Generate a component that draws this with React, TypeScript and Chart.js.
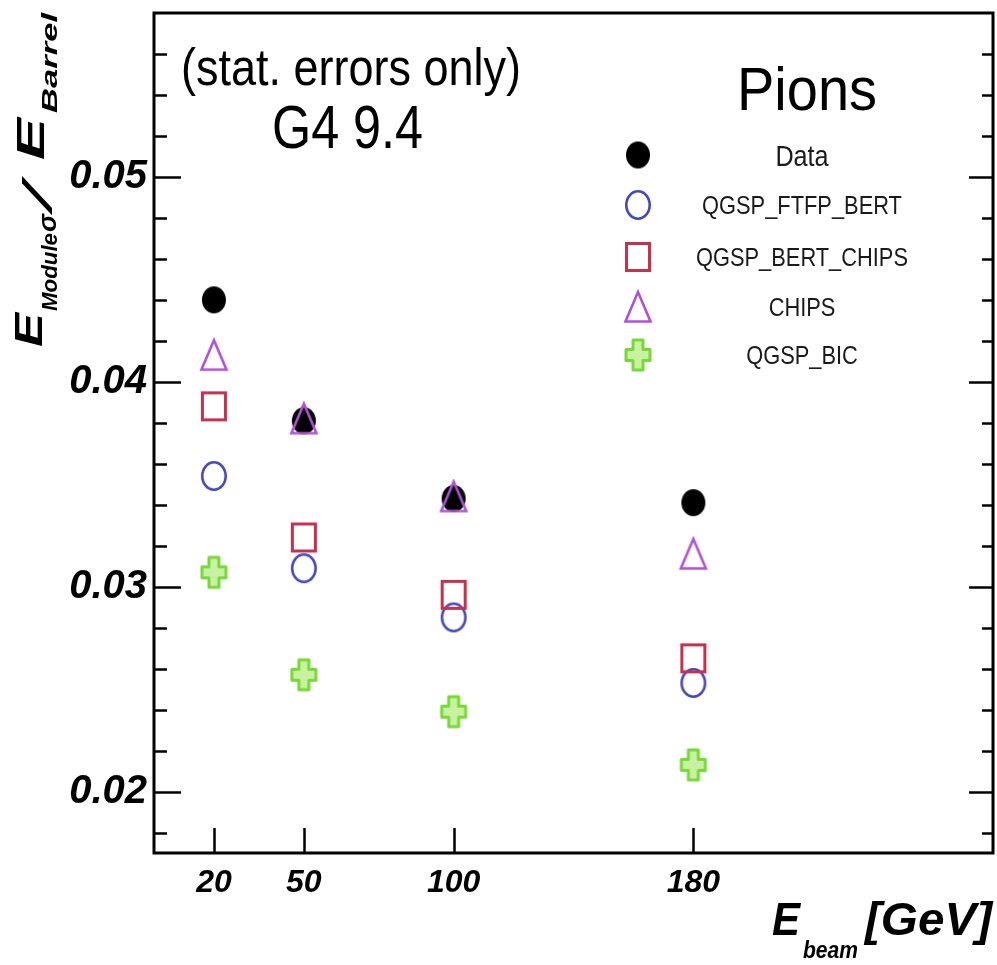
import React, { useEffect, useRef } from 'react';
import { Chart, registerables } from 'chart.js';

Chart.register(...registerables);

// ---- data ----
const energies = [20, 50, 100, 180];
const dataValues = [0.044, 0.0381, 0.0343, 0.0341];
const ftfpBertValues = [0.0354, 0.0309, 0.0285, 0.0253];
const bertChipsValues = [0.0388, 0.0324, 0.0296, 0.0265];
const chipsValues = [0.0413, 0.0382, 0.0344, 0.0316];
const bicValues = [0.0307, 0.0257, 0.0239, 0.0213];
const seriesLabels = ['Data', 'QGSP_FTFP_BERT', 'QGSP_BERT_CHIPS', 'CHIPS', 'QGSP_BIC'];
const xTickValues = [20, 50, 100, 180];
const yMajorTicks = [0.02, 0.03, 0.04, 0.05];
const yMinorTicks = [0.018, 0.022, 0.024, 0.026, 0.028, 0.032, 0.034, 0.036, 0.038, 0.042, 0.044, 0.046, 0.048, 0.052, 0.054, 0.056, 0.058];

const FONT = "'Liberation Sans', Arial, Helvetica, sans-serif";

function makeCanvas(w: number, h: number, draw: (ctx: CanvasRenderingContext2D, w: number, h: number) => void) {
  const c = document.createElement('canvas');
  c.width = w;
  c.height = h;
  const ctx = c.getContext('2d')!;
  draw(ctx, w, h);
  return c;
}

function makeMarkers() {
  const data = makeCanvas(28, 31, (ctx, w, h) => {
    ctx.fillStyle = '#000';
    ctx.beginPath();
    ctx.ellipse(w / 2, h / 2, 12, 13.5, 0, 0, Math.PI * 2);
    ctx.fill();
  });
  const circle = makeCanvas(30, 34, (ctx, w, h) => {
    ctx.strokeStyle = '#4646bf';
    ctx.lineWidth = 2.6;
    ctx.beginPath();
    ctx.ellipse(w / 2, h / 2, 11.7, 13.7, 0, 0, Math.PI * 2);
    ctx.stroke();
  });
  const square = makeCanvas(30, 34, (ctx, w, h) => {
    ctx.strokeStyle = '#c9304e';
    ctx.lineWidth = 3;
    ctx.strokeRect(w / 2 - 11.5, h / 2 - 13.5, 23, 27);
  });
  const triangle = makeCanvas(32, 36, (ctx, w, h) => {
    ctx.strokeStyle = '#b052d6';
    ctx.lineWidth = 2.6;
    ctx.lineJoin = 'miter';
    ctx.beginPath();
    ctx.moveTo(w / 2, h / 2 - 15);
    ctx.lineTo(w / 2 + 12.5, h / 2 + 14.5);
    ctx.lineTo(w / 2 - 12.5, h / 2 + 14.5);
    ctx.closePath();
    ctx.stroke();
  });
  const plus = makeCanvas(32, 38, (ctx, w, h) => {
    const cx = w / 2, cy = h / 2;
    const a = 12, b = 15, t = 5;
    const tv = 5.5;
    ctx.beginPath();
    ctx.moveTo(cx - t, cy - b);
    ctx.lineTo(cx + t, cy - b);
    ctx.lineTo(cx + t, cy - tv);
    ctx.lineTo(cx + a, cy - tv);
    ctx.lineTo(cx + a, cy + tv);
    ctx.lineTo(cx + t, cy + tv);
    ctx.lineTo(cx + t, cy + b);
    ctx.lineTo(cx - t, cy + b);
    ctx.lineTo(cx - t, cy + tv);
    ctx.lineTo(cx - a, cy + tv);
    ctx.lineTo(cx - a, cy - tv);
    ctx.lineTo(cx - t, cy - tv);
    ctx.closePath();
    ctx.fillStyle = '#c8f2a2';
    ctx.fill();
    ctx.strokeStyle = '#78d83a';
    ctx.lineWidth = 3;
    ctx.lineJoin = 'round';
    ctx.stroke();
  });
  return { data, circle, square, triangle, plus };
}

function fitText(ctx: CanvasRenderingContext2D, text: string, left: number, baseline: number, font: string, width: number, color = '#000') {
  ctx.save();
  ctx.font = font;
  ctx.fillStyle = color;
  ctx.textBaseline = 'alphabetic';
  ctx.textAlign = 'left';
  const w = ctx.measureText(text).width;
  ctx.translate(left, baseline);
  ctx.scale(width / w, 1);
  ctx.fillText(text, 0, 0);
  ctx.restore();
}

function centerText(ctx: CanvasRenderingContext2D, text: string, cx: number, baseline: number, font: string, sx: number, color = '#000') {
  ctx.save();
  ctx.font = font;
  ctx.fillStyle = color;
  ctx.textBaseline = 'alphabetic';
  ctx.textAlign = 'center';
  ctx.translate(cx, baseline);
  ctx.scale(sx, 1);
  ctx.fillText(text, 0, 0);
  ctx.restore();
}

function rotPiece(ctx: CanvasRenderingContext2D, text: string, startY: number, endY: number, baseX: number, font: string) {
  ctx.save();
  ctx.font = font;
  ctx.fillStyle = '#000';
  ctx.textBaseline = 'alphabetic';
  ctx.textAlign = 'left';
  const w = ctx.measureText(text).width;
  ctx.translate(baseX, startY);
  ctx.rotate(-Math.PI / 2);
  ctx.scale((startY - endY) / w, 1);
  ctx.fillText(text, 0, 0);
  ctx.restore();
}

export default function App() {
  const ref = useRef<HTMLCanvasElement>(null);

  useEffect(() => {
    document.body.style.margin = '0';
    document.body.style.overflow = 'hidden';
    const canvas = ref.current!;
    const m = makeMarkers();
    const styles = [m.data, m.circle, m.square, m.triangle, m.plus];
    const series = [dataValues, ftfpBertValues, bertChipsValues, chipsValues, bicValues];
    const orders = [4, 3, 2, 1, 0];

    const decorPlugin = {
      id: 'decor',
      afterDraw(chart: any) {
        const ctx: CanvasRenderingContext2D = chart.ctx;
        const { left, right, top, bottom } = chart.chartArea;
        const xs = chart.scales.x;
        const ys = chart.scales.y;
        ctx.save();
        ctx.strokeStyle = '#000';
        ctx.lineWidth = 2.5;
        const yt = [...yMajorTicks.map((v) => [v, true] as [number, boolean]), ...yMinorTicks.map((v) => [v, false] as [number, boolean])];
        for (const [v, major] of yt) {
          const py = Math.round(ys.getPixelForValue(v)) + 0.5;
          if (py < top + 2 || py > bottom - 2) continue;
          const lenL = major ? 27 : 13;
          const lenR = major ? 24 : 11;
          ctx.beginPath();
          ctx.moveTo(left, py);
          ctx.lineTo(left + lenL, py);
          ctx.moveTo(right, py);
          ctx.lineTo(right - lenR, py);
          ctx.stroke();
        }
        for (const v of xTickValues) {
          const px = Math.round(xs.getPixelForValue(v)) + 0.5;
          ctx.beginPath();
          ctx.moveTo(px, bottom);
          ctx.lineTo(px, bottom - 25);
          ctx.stroke();
        }
        ctx.lineWidth = 3;
        ctx.strokeRect(left, top, right - left, bottom - top);
        ctx.restore();

        fitText(ctx, '(stat. errors only)', 181, 85, `52px ${FONT}`, 340);
        fitText(ctx, 'G4 9.4', 272, 148, `62px ${FONT}`, 151);
        fitText(ctx, 'Pions', 737, 110, `62px ${FONT}`, 140);

        const rows = [155, 205, 257, 307, 355];
        chart.data.datasets.forEach((ds: any, i: number) => {
          const st = ds.pointStyle as HTMLCanvasElement;
          ctx.drawImage(st, 638 - st.width / 2, rows[i] - st.height / 2);
          const size = i === 0 ? 30 : 26;
          centerText(ctx, ds.label, 802, rows[i] + (i === 0 ? 11 : 9), `${size}px ${FONT}`, 0.84, '#1a1a1a');
        });

        fitText(ctx, 'E', 772, 935, `italic bold 47px ${FONT}`, 28);
        fitText(ctx, 'beam', 803, 958, `italic bold 24px ${FONT}`, 55);
        fitText(ctx, '[GeV]', 865, 935, `italic bold 47px ${FONT}`, 127);

        rotPiece(ctx, 'E', 347, 313, 42, `italic bold 38px ${FONT}`);
        rotPiece(ctx, 'Module', 311, 233, 57, `italic bold 22px ${FONT}`);
        rotPiece(ctx, 'σ', 232, 214, 56, `italic bold 26px ${FONT}`);
        rotPiece(ctx, '/', 210, 184, 52, `italic 40px ${FONT}`);
        rotPiece(ctx, 'E', 160, 118, 44, `italic bold 38px ${FONT}`);
        rotPiece(ctx, 'Barrel', 113, 13, 57, `italic bold 22px ${FONT}`);
      },
    };

    const chart = new Chart(canvas, {
      type: 'scatter',
      data: {
        datasets: series.map((vals, i) => ({
          label: seriesLabels[i],
          data: energies.map((e, j) => ({ x: e, y: vals[j] })),
          pointStyle: styles[i] as any,
          pointRadius: 14,
          showLine: false,
          order: orders[i],
        })),
      },
      options: {
        animation: false,
        responsive: false,
        devicePixelRatio: 1,
        layout: { autoPadding: false, padding: { top: 13, right: 4, left: 0, bottom: 0 } },
        plugins: {
          legend: { display: false },
          tooltip: { enabled: false },
        },
        scales: {
          x: {
            type: 'linear',
            min: 0,
            max: 280,
            afterBuildTicks: (s: any) => {
              s.ticks = xTickValues.map((v) => ({ value: v }));
            },
            afterFit: (s: any) => {
              s.height = 112;
              s.paddingLeft = 0;
              s.paddingRight = 0;
              s.paddingTop = 0;
              s.paddingBottom = 0;
            },
            grid: { display: false, drawTicks: false },
            border: { display: false },
            ticks: {
              autoSkip: false,
              maxRotation: 0,
              padding: 11,
              color: '#000',
              font: { family: FONT, size: 32, style: 'italic', weight: 'bold' },
              callback: (v: any) => String(v),
            },
          },
          y: {
            type: 'linear',
            min: 0.017,
            max: 0.058,
            afterBuildTicks: (s: any) => {
              s.ticks = yMajorTicks.map((v) => ({ value: v }));
            },
            afterFit: (s: any) => {
              s.width = 154;
              s.paddingLeft = 0;
              s.paddingRight = 0;
              s.paddingTop = 0;
              s.paddingBottom = 0;
            },
            grid: { display: false, drawTicks: false },
            border: { display: false },
            ticks: {
              autoSkip: false,
              padding: 7,
              color: '#000',
              font: { family: FONT, size: 40, style: 'italic', weight: 'bold' },
              callback: (v: any) => Number(v).toFixed(2),
            },
          },
        },
      },
      plugins: [decorPlugin],
    });
    return () => chart.destroy();
  }, []);

  return (
    <div style={{ width: 997, height: 965, background: '#fff' }}>
      <canvas ref={ref} width={997} height={965} style={{ display: 'block' }} />
    </div>
  );
}
